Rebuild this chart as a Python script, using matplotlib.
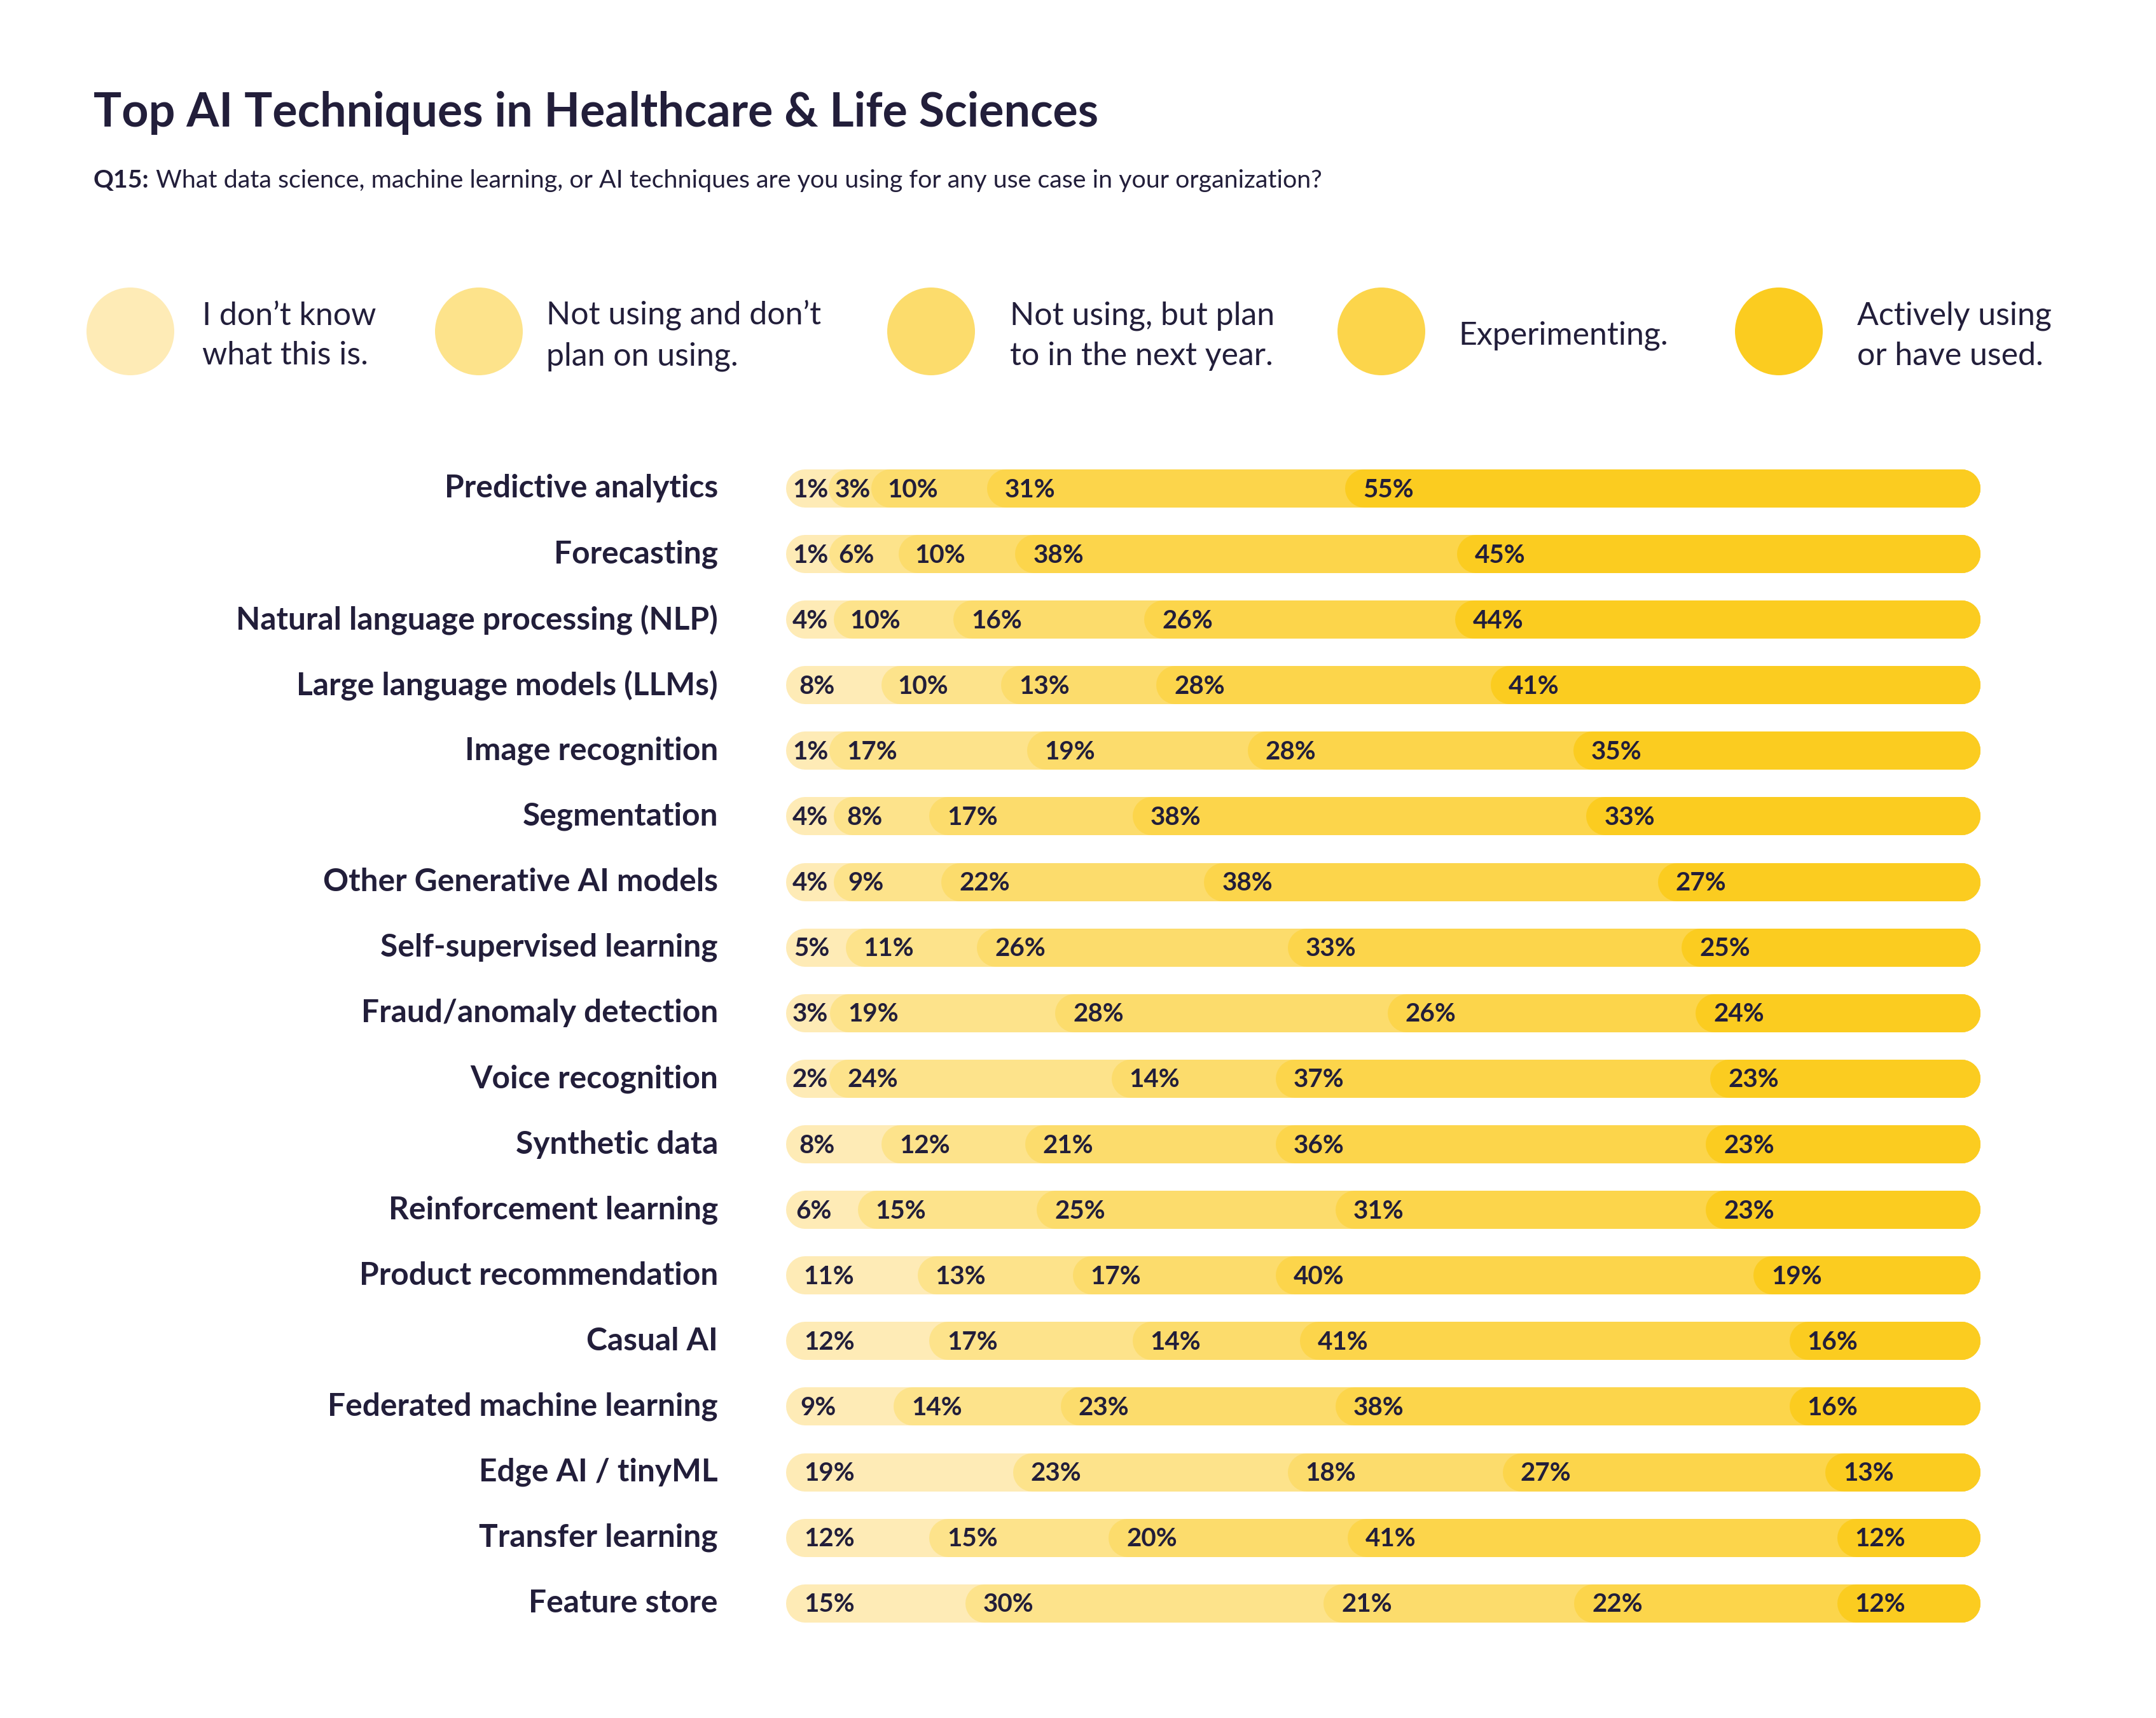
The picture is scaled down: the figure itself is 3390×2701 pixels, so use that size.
import matplotlib
matplotlib.use("Agg")
import matplotlib.pyplot as plt
from matplotlib.patches import Circle
import numpy as np

plt.rcParams['font.family'] = ['Lato', 'DejaVu Sans']

# ---- data ----
techniques = [
    "Predictive analytics", "Forecasting", "Natural language processing (NLP)",
    "Large language models (LLMs)", "Image recognition", "Segmentation",
    "Other Generative AI models", "Self-supervised learning",
    "Fraud/anomaly detection", "Voice recognition", "Synthetic data",
    "Reinforcement learning", "Product recommendation", "Casual AI",
    "Federated machine learning", "Edge AI / tinyML", "Transfer learning",
    "Feature store",
]
dont_know    = [1, 1, 4, 8, 1, 4, 4, 5, 3, 2, 8, 6, 11, 12, 9, 19, 12, 15]
not_planning = [3, 6, 10, 10, 17, 8, 9, 11, 19, 24, 12, 15, 13, 17, 14, 23, 15, 30]
plan_next    = [10, 10, 16, 13, 19, 17, 22, 26, 28, 14, 21, 25, 17, 14, 23, 18, 20, 21]
experimenting = [31, 38, 26, 28, 28, 38, 38, 33, 26, 37, 36, 31, 40, 41, 38, 27, 41, 22]
active       = [55, 45, 44, 41, 35, 33, 27, 25, 24, 23, 23, 23, 19, 16, 16, 13, 12, 12]

legend_labels = ["I don\u2019t know\nwhat this is.", "Not using and don\u2019t\nplan on using.",
                 "Not using, but plan\nto in the next year.", "Experimenting.",
                 "Actively using\nor have used."]
colors = ['#FEEBB6', '#FDE38B', '#FCDC6C', '#FCD54B', '#FBCC20']
ink = '#221E3A'

W, H = 3391, 2701
fig = plt.figure(figsize=(W / 100, H / 100), dpi=100)
fig.patch.set_facecolor('white')

def fx(px):
    return px / W

def fy(py):
    return 1 - py / H

# bars axes
n = len(techniques)
bar_left, bar_right = 1236, 3114
row_top, row_step = 768, 103.1
ax = fig.add_axes([fx(bar_left), fy(row_top + (n - 0.5) * row_step),
                   fx(bar_right - bar_left), (n * row_step) / H])
ax.set_xlim(0, 100)
ax.set_ylim(n - 0.5, -0.5)
ax.axis('off')

# title + subtitle
fig.text(fx(147), fy(177), "Top AI Techniques in Healthcare & Life Sciences",
         fontsize=53, fontweight='bold', color=ink, va='center', ha='left')
q = fig.text(fx(147), fy(284), "Q15:", fontsize=28.4, fontweight='bold',
             color=ink, va='center', ha='left')
ax.annotate(" What data science, machine learning, or AI techniques are you using for any use case in your organization?",
            xy=(1, 0), xycoords=q, va='bottom', ha='left',
            fontsize=28.4, color=ink, annotation_clip=False)

# legend
circle_x = [205, 753, 1464, 2172, 2797]
text_x = [318, 859, 1588, 2293, 2920]
for cx, tx, c, lab in zip(circle_x, text_x, colors, legend_labels):
    fig.patches.append(Circle((cx / 100, (H - 521) / 100), 0.69, transform=fig.dpi_scale_trans,
                              facecolor=c, edgecolor='none'))
    fig.text(fx(tx), fy(528), lab, fontsize=36, color=ink, va='center', ha='left',
             linespacing=1.45)

bar_px = 60
lw_pt = bar_px * 72 / 100
r_data = (bar_px / 2) / (bar_right - bar_left) * 100
px_to_data = 100 / (bar_right - bar_left)

series = np.array([dont_know, not_planning, plan_next, experimenting, active], dtype=float).T
min_w = 3.7
for i, vals in enumerate(series):
    disp = np.maximum(vals, min_w)
    disp = disp / disp.sum() * 100
    starts = np.concatenate([[0], np.cumsum(disp)[:-1]])
    for k, (s, v) in enumerate(zip(starts, vals)):
        ax.plot([s + r_data, 100 - r_data], [i, i], color=colors[k], lw=lw_pt,
                solid_capstyle='round', zorder=2 + k)
        off = np.clip(2.5 * v, 10, 28) * px_to_data
        ax.text(s + off, i + 0.02, f"{int(v)}%", fontsize=29, fontweight='bold',
                color=ink, va='center', ha='left', zorder=20)
    fig.text(fx(1129), fy(row_top + i * row_step), techniques[i], fontsize=35.7,
             fontweight='bold', color=ink, va='center', ha='right')

fig.savefig("out.png", dpi=100, facecolor='white')
